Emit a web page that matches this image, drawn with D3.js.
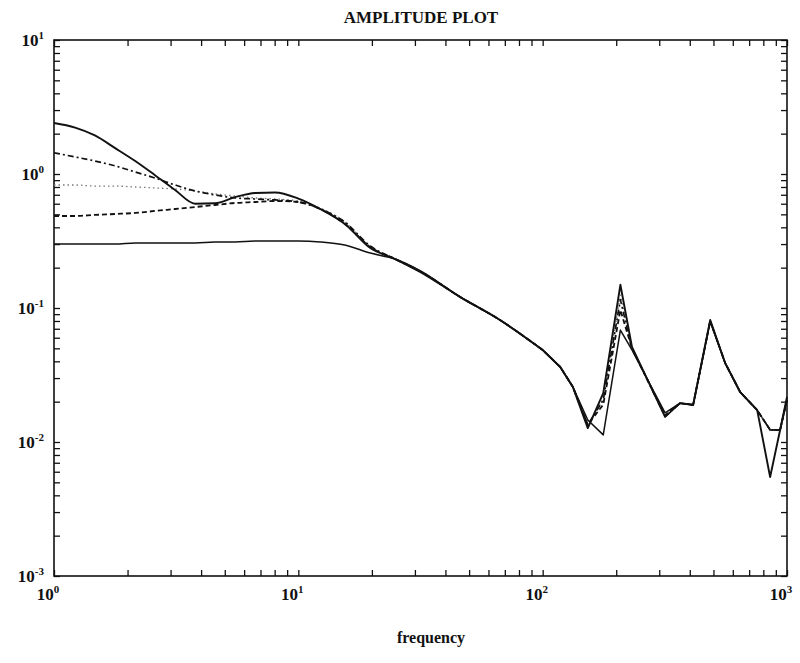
<!DOCTYPE html>
<html>
<head>
<meta charset="utf-8">
<script src="https://cdn.jsdelivr.net/npm/d3@7"></script>
<style>
  html, body { margin: 0; padding: 0; background: #fff; }
  svg { display: block; }
  text { font-family: "Liberation Serif", "DejaVu Serif", serif; font-weight: bold; fill: #111; }
</style>
</head>
<body>
<svg id="chart" width="800" height="663"></svg>
<script>
// ---- data ----
const frequency = [1, 1.22, 1.47, 1.78, 2.15, 2.59, 3.13, 3.78, 4.56, 5.51, 6.65, 8.03, 10, 12.3, 15.5, 19.7, 24.9, 31.5, 45.9, 66.9, 100, 118, 133, 153, 177, 208, 232, 317, 365, 413, 485, 558, 643, 755, 853, 937, 1000];

const solidA = [2.40, 2.22, 1.94, 1.56, 1.25, 0.98, 0.76, 0.60, 0.605, 0.672, 0.722, 0.728, 0.655, 0.548, 0.424, 0.280, 0.232, 0.186, 0.121, 0.0813, 0.0486, 0.0363, 0.0257, 0.0127, 0.0232, 0.149, 0.0512, 0.0154, 0.0195, 0.0189, 0.0813, 0.0389, 0.0236, 0.0173, 0.00548, 0.0123, 0.0217];
const dashDot = [1.44, 1.34, 1.25, 1.15, 1.035, 0.933, 0.828, 0.747, 0.698, 0.663, 0.651, 0.640, 0.618, 0.548, 0.438, 0.290, 0.232, 0.188, 0.121, 0.0813, 0.0486, 0.0363, 0.0257, 0.0134, 0.0206, 0.115, 0.050, 0.0155, 0.0195, 0.019, 0.080, 0.039, 0.0236, 0.0173, 0.0123, 0.0123, 0.0206];
const dotted = [0.828, 0.828, 0.813, 0.813, 0.800, 0.787, 0.773, 0.747, 0.710, 0.686, 0.663, 0.651, 0.629, 0.557, 0.438, 0.285, 0.232, 0.188, 0.121, 0.0813, 0.0486, 0.0363, 0.0257, 0.013, 0.021, 0.125, 0.050, 0.0155, 0.0195, 0.019, 0.080, 0.039, 0.0236, 0.0173, 0.0123, 0.0123, 0.0206];
const dashed = [0.486, 0.486, 0.495, 0.503, 0.512, 0.530, 0.548, 0.567, 0.587, 0.608, 0.618, 0.629, 0.618, 0.548, 0.424, 0.285, 0.232, 0.188, 0.121, 0.0813, 0.0486, 0.0363, 0.0257, 0.0135, 0.019, 0.0966, 0.050, 0.0158, 0.0195, 0.019, 0.080, 0.039, 0.0236, 0.0173, 0.0123, 0.0123, 0.0206];
const solidB = [0.300, 0.300, 0.300, 0.300, 0.306, 0.306, 0.306, 0.306, 0.311, 0.311, 0.316, 0.316, 0.316, 0.311, 0.295, 0.257, 0.232, 0.19, 0.121, 0.0813, 0.0486, 0.0363, 0.0257, 0.0146, 0.0113, 0.0685, 0.0486, 0.0165, 0.0195, 0.0189, 0.079, 0.039, 0.0236, 0.0173, 0.0123, 0.0123, 0.0206];

const xTickValues = [1, 10, 100, 1000];
const xTickExponents = ["0", "1", "2", "3"];
const yTickValues = [10, 1, 0.1, 0.01, 0.001];
const yTickExponents = ["1", "0", "-1", "-2", "-3"];
const titleText = "AMPLITUDE PLOT";
const xLabel = "frequency";

// ---- layout ----
const L = 54, R = 787, T = 40, B = 576;
const svg = d3.select("#chart");

const x = d3.scaleLog().domain([1, 1000]).range([L, R]);
const y = d3.scaleLog().domain([0.001, 10]).range([B, T]);

function minorTicks(lo, hi) {
  const out = [];
  for (let e = lo; e < hi; e++) {
    for (let k = 1; k <= 9; k++) out.push(k * Math.pow(10, e));
  }
  out.push(Math.pow(10, hi));
  return out;
}
const xTicksAll = minorTicks(0, 3);
const yTicksAll = minorTicks(-3, 1);

const tick = 6;
svg.append("g").attr("transform", `translate(0,${B})`)
  .call(d3.axisBottom(x).tickValues(xTicksAll).tickSizeInner(-tick).tickSizeOuter(0).tickFormat(""));
svg.append("g").attr("transform", `translate(0,${T})`)
  .call(d3.axisTop(x).tickValues(xTicksAll).tickSizeInner(-tick).tickSizeOuter(0).tickFormat(""));
svg.append("g").attr("transform", `translate(${L},0)`)
  .call(d3.axisLeft(y).tickValues(yTicksAll).tickSizeInner(-tick).tickSizeOuter(0).tickFormat(""));
svg.append("g").attr("transform", `translate(${R},0)`)
  .call(d3.axisRight(y).tickValues(yTicksAll).tickSizeInner(-tick).tickSizeOuter(0).tickFormat(""));
svg.selectAll(".domain").remove();
svg.selectAll(".tick line").attr("stroke", "#111").attr("stroke-width", 1.3);

// frame
svg.append("rect").attr("x", L).attr("y", T).attr("width", R - L).attr("height", B - T)
  .attr("fill", "none").attr("stroke", "#111").attr("stroke-width", 1.6);

// tick labels
const xl = svg.append("g");
xTickValues.forEach((v, i) => {
  const t = xl.append("text").attr("x", x(v) - 6).attr("y", 600)
    .attr("text-anchor", "middle").style("font-size", "17px");
  t.append("tspan").text("10");
  t.append("tspan").attr("dy", -7).style("font-size", "11px").text(xTickExponents[i]);
});
const yl = svg.append("g");
yTickValues.forEach((v, i) => {
  const t = yl.append("text").attr("x", 44).attr("y", y(v) + 6)
    .attr("text-anchor", "end").style("font-size", "17px");
  t.append("tspan").text("10");
  t.append("tspan").attr("dy", -7).style("font-size", "11px").text(yTickExponents[i]);
});

// title & axis label
svg.append("text").attr("x", 421).attr("y", 23).attr("text-anchor", "middle")
  .style("font-size", "17px").text(titleText);
svg.append("text").attr("x", 431).attr("y", 643).attr("text-anchor", "middle")
  .style("font-size", "16px").text(xLabel);

// series: smooth in the low-frequency part, straight segments in the high-frequency part
const series = [
  { values: solidB, dash: null, width: 1.5, color: "#111" },
  { values: dotted, dash: "1.5,3", width: 1.3, color: "#777" },
  { values: dashed, dash: "5,3", width: 1.8, color: "#111" },
  { values: dashDot, dash: "6,3,2,3", width: 1.7, color: "#111" },
  { values: solidA, dash: null, width: 1.9, color: "#111" }
];
const split = frequency.indexOf(100);
const smoothLine = d3.line().x(d => x(d[0])).y(d => y(d[1])).curve(d3.curveMonotoneX);
const straightLine = d3.line().x(d => x(d[0])).y(d => y(d[1])).curve(d3.curveLinear);
series.forEach(s => {
  const pts = frequency.map((f, i) => [f, s.values[i]]);
  const d = smoothLine(pts.slice(0, split + 1)) + straightLine(pts.slice(split)).replace(/^M/, "L");
  svg.append("path")
    .attr("d", d)
    .attr("fill", "none")
    .attr("stroke", s.color)
    .attr("stroke-width", s.width)
    .attr("stroke-linejoin", "round")
    .attr("stroke-dasharray", s.dash);
});
</script>
</body>
</html>
